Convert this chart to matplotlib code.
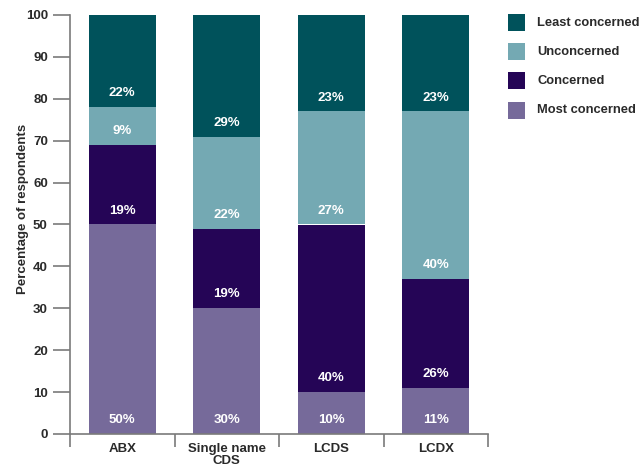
import matplotlib
matplotlib.use("Agg")
import matplotlib.pyplot as plt
from matplotlib.patches import Rectangle
import numpy as np

plt.rcParams['font.family'] = ['Liberation Sans', 'DejaVu Sans']
plt.rcParams['font.weight'] = 'bold'

categories = ["ABX", "Single name\nCDS", "LCDS", "LCDX"]
series_names = ["Most concerned", "Concerned", "Unconcerned", "Least concerned"]
most_concerned = [50, 30, 10, 11]
concerned = [19, 19, 40, 26]
unconcerned = [9, 22, 27, 40]
least_concerned = [22, 29, 23, 23]
y_ticks = [0, 10, 20, 30, 40, 50, 60, 70, 80, 90, 100]

colors = {
    "Most concerned": "#766a9a",
    "Concerned": "#250556",
    "Unconcerned": "#74a9b3",
    "Least concerned": "#00525b",
}
text_color = "#2a2a2a"
axis_color = "#7a7a7a"

W, H = 644, 472
fig = plt.figure(figsize=(W / 100, H / 100), dpi=100)
ax = fig.add_axes([70 / W, (H - 434) / H, (488 - 70) / W, (434 - 15) / H])

x = np.arange(len(categories))
series = [most_concerned, concerned, unconcerned, least_concerned]
bottom = np.zeros(len(categories))
for name, vals in zip(series_names, series):
    vals = np.array(vals, dtype=float)
    ax.bar(x, vals, bottom=bottom, width=0.64, color=colors[name], edgecolor="none", zorder=2)
    for xi, b, v in zip(x, bottom, vals):
        ax.text(xi, b + 3.3, f"{int(v)}%", ha="center", va="center",
                color="white", fontsize=9.5, fontweight="bold", zorder=3)
    bottom += vals

ax.set_xlim(-0.5, len(categories) - 0.5)
ax.set_ylim(0, 100)
ax.set_yticks(y_ticks)
ax.set_yticklabels([str(t) for t in y_ticks], fontsize=9.5, fontweight="bold", color=text_color)
ax.set_xticks(x)
ax.set_xticklabels(categories, fontsize=9.5, fontweight="bold", color=text_color,
                   linespacing=1.05, va="top")
ax.set_xticks(np.arange(len(categories) + 1) - 0.5, minor=True)
ax.tick_params(axis="x", which="major", length=0, pad=6.5)
ax.tick_params(axis="x", which="minor", length=9, width=1.2, color=axis_color, direction="out")
ax.tick_params(axis="y", which="major", length=12, width=1.2, color=axis_color, pad=4)

for s in ["top", "right"]:
    ax.spines[s].set_visible(False)
for s in ["left", "bottom"]:
    ax.spines[s].set_color(axis_color)
    ax.spines[s].set_linewidth(1.2)

fig.text(23 / W, 1 - 209 / H, "Percentage of respondents", rotation=90,
         ha="center", va="center", fontsize=9.5, fontweight="bold", color=text_color)

# Legend drawn as swatches and labels, top entry first
legend_order = list(reversed(series_names))
for i, name in enumerate(legend_order):
    yc = 22.5 + i * 29.2
    fig.add_artist(Rectangle((508 / W, 1 - (yc + 8.5) / H), 16.5 / W, 17 / H,
                             transform=fig.transFigure, facecolor=colors[name],
                             edgecolor="none"))
    fig.text(537 / W, 1 - yc / H, name, ha="left", va="center",
             fontsize=9.3, fontweight="bold", color=text_color)

fig.savefig("out.png", dpi=100)
